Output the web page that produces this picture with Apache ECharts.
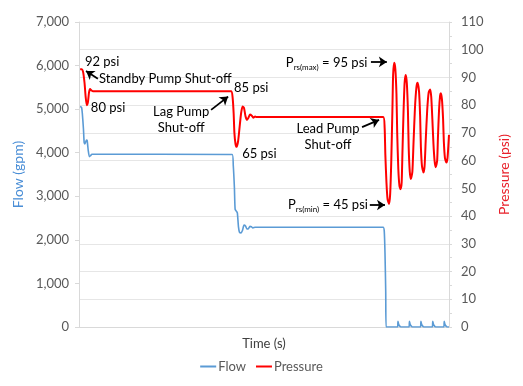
<!DOCTYPE html>
<html>
<head>
<meta charset="utf-8">
<script src="https://cdn.jsdelivr.net/npm/echarts@6/dist/echarts.min.js"></script>
<style>html,body{margin:0;padding:0;background:#fff}#c{width:523px;height:386px}</style>
</head>
<body>
<div id="c"></div>
<script>
// Time (s), arbitrary 0-100 scale
var flowTime = [0.3,0.7,0.9,1.2,1.4,1.6,2.0,2.2,2.5,2.8,3.1,3.5,41.4,41.7,42.0,42.2,42.6,42.8,43.1,43.4,43.8,44.2,44.6,45.0,45.4,45.8,46.2,46.6,47.0,47.6,82.2,82.5,82.7,82.9,83.0,
  86.1,86.2,86.4,86.7,87.0, 89.2,89.3,89.5,89.8,90.1, 92.3,92.4,92.6,92.9,93.2, 95.5,95.6,95.8,96.1,96.4, 98.6,98.7,98.9,99.2,99.5, 100];
var flow = [5060,5040,4900,4550,4230,4200,4290,4280,4050,3910,3930,3965,3960,3700,3200,2700,2650,2620,2300,2170,2160,2220,2340,2320,2250,2260,2310,2300,2275,2290,2290,2200,1700,800,0,
  0,130,60,20,0, 0,130,60,20,0, 0,130,60,20,0, 0,130,60,20,0, 0,130,60,20,0, 0];

var pressTime = [0.3,0.7,1.1,1.5,1.8,2.1,2.4,2.7,3.0,3.4,3.8,41.1,41.5,41.8,42.0,42.3,42.6,43.0,43.4,43.8,44.2,44.6,45.0,45.4,45.8,46.2,46.7,47.1,47.6,48.1,82.2,
  82.6,82.8,83.1,83.4,83.8,84.1,84.4,84.7,84.9,85.2,85.5,85.8,86.0,86.3,86.6,86.9,87.2,87.4,87.7,88.0,88.3,88.6,88.9,89.1,89.4,89.7,90.1,90.4,90.8,91.2,91.5,91.9,92.2,92.4,92.7,93.1,93.4,93.7,94.1,94.5,94.9,95.2,95.5,95.8,96.1,96.4,96.8,97.0,97.3,97.6,97.8,98.1,98.4,98.6,98.9,99.3,99.6,100];
var pressure = [93,93,92,88,83,80,81,84.5,85.8,85.3,85,85,83,77,70,66,65,67,72,77,79.5,79,76,74.7,75.5,76.6,76.2,75.5,75.9,75.7,75.7,
  72,62,52,46,44.4,48,60,78,91,95.3,93,84,70,57,51,49.7,52,62,77,88,90.9,88,78,65,56,53.4,56,66,79,86.5,88.1,85,76,65,58,55.7,58,67,78,84.5,85.7,83,75,66,60,57.6,60,68,78,83.5,84.3,82,75,67,61,59.3,61,69.3];

var flowTicks = [0,1000,2000,3000,4000,5000,6000,7000];
var pressTicks = [0,10,20,30,40,50,60,70,80,90,100,110];

// annotation arrows [t1,p1,t2,p2] in pressure-axis data units
var arrows = [[5.1,89.5,1.9,92.3],[35.7,78.3,40.3,83.1],[76.5,72.1,81.1,74.7],[78.9,95.6,83.2,95.6],[78.6,44.0,82.7,44.0]];

function pairs(a,b){return a.map(function(v,i){return [v,b[i]];});}

var FONT = 'Lato';
var chart = echarts.init(document.getElementById('c'));
function ann(t,p,text,pos,extra){
  return {coord:[t,p], symbolSize:0, label:Object.assign({show:true, formatter:text, position:pos, distance:0, color:'#000', fontSize:13, fontFamily:FONT, lineHeight:16,
    rich:{s:{fontSize:8, fontFamily:FONT, color:'#000', verticalAlign:'bottom', padding:[6,0,0,0]}, n:{fontSize:13,fontFamily:FONT,color:'#000'}}}, extra||{})};
}
chart.setOption({
  animation:false,
  textStyle:{fontFamily:FONT},
  grid:{left:79, right:74, top:22, bottom:59},
  legend:{bottom:8, left:'center', itemWidth:16, itemHeight:2, itemGap:10, icon:'rect',
    textStyle:{color:'#595959', fontSize:13, fontFamily:FONT, padding:[0,0,0,-3]},
    data:['Flow','Pressure']},
  xAxis:{type:'value', min:0, max:100, name:'Time (s)', nameLocation:'middle', nameGap:10,
    nameTextStyle:{color:'#404040', fontSize:13, fontFamily:FONT},
    axisLine:{show:true, lineStyle:{color:'#d9d9d9'}}, axisTick:{show:false}, axisLabel:{show:false}, splitLine:{show:false}},
  yAxis:[
    {type:'value', min:0, max:7000, interval:1000, position:'left',
      name:'Flow (gpm)', nameLocation:'middle', nameGap:50, nameRotate:90,
      nameTextStyle:{color:'#4a8ed6', fontSize:14, fontFamily:FONT},
      axisLine:{show:true, lineStyle:{color:'#d9d9d9'}}, axisTick:{show:true, length:4, lineStyle:{color:'#d9d9d9'}},
      axisLabel:{color:'#595959', fontSize:13, fontFamily:FONT, margin:10,
        formatter:function(v){return flowTicks.indexOf(v)>=0 ? v.toLocaleString('en-US') : '';}},
      splitLine:{show:false}},
    {type:'value', min:0, max:110, interval:10, position:'right',
      name:'Pressure (psi)', nameLocation:'middle', nameGap:48, nameRotate:90,
      nameTextStyle:{color:'#e8202a', fontSize:14, fontFamily:FONT},
      axisLine:{show:true, lineStyle:{color:'#d9d9d9'}}, axisTick:{show:true, length:3, lineStyle:{color:'#d9d9d9'}},
      minorTick:{show:true, splitNumber:2, length:3, lineStyle:{color:'#d9d9d9'}},
      axisLabel:{color:'#595959', fontSize:13, fontFamily:FONT, margin:12,
        formatter:function(v){return pressTicks.indexOf(v)>=0 ? String(v) : '';}},
      splitLine:{show:true, lineStyle:{color:'#e6e6e6'}}}
  ],
  series:[
    {name:'Flow', type:'line', yAxisIndex:0, showSymbol:false, smooth:0.2, data:pairs(flowTime,flow),
      lineStyle:{color:'#5b9bd5', width:1.6}, itemStyle:{color:'#5b9bd5'}},
    {name:'Pressure', type:'line', yAxisIndex:1, showSymbol:false, smooth:0.2, data:pairs(pressTime,pressure),
      lineStyle:{color:'#ff0000', width:2}, itemStyle:{color:'#ff0000'}},
    {name:'ann', type:'line', yAxisIndex:1, data:[], silent:true,
      markLine:{silent:true, symbol:['none','arrow'], symbolSize:8, label:{show:false},
        lineStyle:{color:'#000', width:1.8, type:'solid'}, itemStyle:{color:'#000'},
        data:arrows.map(function(a){return [{coord:[a[0],a[1]]},{coord:[a[2],a[3]]}];})},
      markPoint:{silent:true, symbol:'circle', symbolSize:0,
        data:[
          ann(1.6,95.6,'92 psi','right'),
          ann(5.4,89.5,'Standby Pump Shut-off','right'),
          ann(3.2,79.0,'80 psi','right'),
          ann(41.9,86.2,'85 psi','right'),
          ann(27.6,74.8,'Lag Pump\nShut-off','inside',{align:'center'}),
          ann(44.1,62.4,'65 psi','right'),
          ann(67.3,68.7,'Lead Pump\nShut-off','inside',{align:'center'}),
          ann(55.9,95.2,'{n|P}{s|rs(max)}{n| = 95 psi}','right'),
          ann(56.5,44.0,'{n|P}{s|rs(min)}{n| = 45 psi}','right')
        ]}}
  ]
});
</script>
</body>
</html>
